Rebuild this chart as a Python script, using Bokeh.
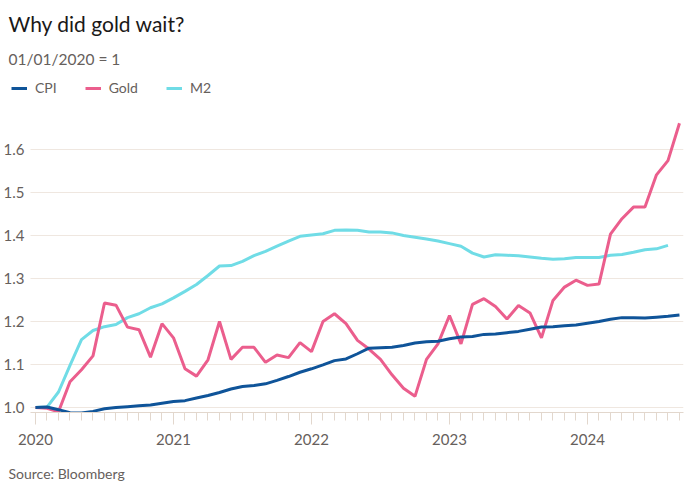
from bokeh.plotting import figure
from bokeh.models import Range1d, FixedTicker, Title, Legend, LegendItem, BoxAnnotation
from bokeh.embed import file_html
from bokeh.resources import INLINE

# Monthly index: 0 = Jan 2020 ... 56 = Sep 2024
months = list(range(57))
cpi = [1.000, 1.001, 0.995, 0.988, 0.987, 0.991, 0.997, 1.000, 1.002, 1.004,
       1.006, 1.010, 1.014, 1.016, 1.022, 1.028, 1.035, 1.043, 1.049, 1.051,
       1.055, 1.063, 1.072, 1.082, 1.090, 1.099, 1.109, 1.113, 1.125, 1.138,
       1.139, 1.140, 1.144, 1.150, 1.153, 1.154, 1.160, 1.164, 1.165, 1.170,
       1.171, 1.174, 1.177, 1.182, 1.187, 1.188, 1.190, 1.192, 1.196, 1.200,
       1.205, 1.209, 1.209, 1.208, 1.210, 1.212, 1.215]
gold = [1.000, 0.998, 0.990, 1.060, 1.088, 1.120, 1.243, 1.238, 1.187, 1.181,
        1.117, 1.195, 1.162, 1.090, 1.073, 1.111, 1.200, 1.112, 1.140, 1.140,
        1.105, 1.122, 1.116, 1.151, 1.130, 1.200, 1.218, 1.195, 1.156, 1.136,
        1.112, 1.076, 1.045, 1.026, 1.112, 1.148, 1.214, 1.148, 1.240, 1.253,
        1.235, 1.206, 1.237, 1.220, 1.162, 1.249, 1.280, 1.296, 1.284, 1.287,
        1.403, 1.439, 1.466, 1.466, 1.541, 1.574, 1.661]
m2 = [1.000, 1.001, 1.036, 1.098, 1.158, 1.179, 1.188, 1.193, 1.209, 1.218,
      1.232, 1.241, 1.255, 1.270, 1.286, 1.307, 1.329, 1.330, 1.340, 1.353,
      1.363, 1.375, 1.387, 1.398, 1.401, 1.404, 1.412, 1.413, 1.412, 1.408,
      1.408, 1.406, 1.400, 1.396, 1.392, 1.387, 1.381, 1.375, 1.359, 1.350,
      1.355, 1.354, 1.353, 1.350, 1.347, 1.345, 1.346, 1.349, 1.349, 1.349,
      1.354, 1.356, 1.361, 1.367, 1.369, 1.377]

year_ticks = [0, 12, 24, 36, 48]
year_labels = ["2020", "2021", "2022", "2023", "2024"]
y_ticks = [1.0, 1.1, 1.2, 1.3, 1.4, 1.5, 1.6]
y_labels = ["1.0", "1.1", "1.2", "1.3", "1.4", "1.5", "1.6"]

FONT = "Lato"
GREY = "#66605c"
X_START, X_END = -2.087, 56.35    # view range (months)
PLOT_LEFT = -0.435                # where gridlines / axis line begin

p = figure(frame_width=672, frame_height=337, output_backend="svg",
           toolbar_location=None, title=None,
           x_range=Range1d(X_START, X_END), y_range=Range1d(0.9884, 1.772),
           min_border_left=0, min_border_right=9, min_border_top=75,
           min_border_bottom=0)
p.background_fill_color = "white"
p.border_fill_color = "white"
p.outline_line_color = None

# y axis (labels sit inside the frame, left of the gridlines)
p.yaxis.ticker = FixedTicker(ticks=y_ticks)
p.yaxis.major_label_overrides = {t: l for t, l in zip(y_ticks, y_labels)}
p.yaxis.axis_line_color = None
p.yaxis.major_tick_line_color = None
p.yaxis.minor_tick_line_color = None
p.yaxis.major_label_text_font = FONT
p.yaxis.major_label_text_font_size = "15px"
p.yaxis.major_label_text_color = GREY
p.yaxis.major_label_standoff = -19

# x axis
p.xaxis.ticker = FixedTicker(ticks=year_ticks, minor_ticks=months)
p.xaxis.major_label_overrides = {t: l for t, l in zip(year_ticks, year_labels)}
p.xaxis.bounds = (PLOT_LEFT, X_END)
p.xaxis.axis_line_color = "#e2d7cd"
p.xaxis.major_tick_line_color = "#e2d7cd"
p.xaxis.minor_tick_line_color = "#e2d7cd"
p.xaxis.major_tick_in = 0
p.xaxis.major_tick_out = 12
p.xaxis.minor_tick_in = 0
p.xaxis.minor_tick_out = 8
p.xaxis.major_label_text_font = FONT
p.xaxis.major_label_text_font_size = "15px"
p.xaxis.major_label_text_color = GREY
p.xaxis.major_label_standoff = 9

p.xgrid.grid_line_color = None
p.ygrid.ticker = FixedTicker(ticks=y_ticks)
p.ygrid.grid_line_color = "#efe7e0"
# keep the gridlines clear of the y labels
p.add_layout(BoxAnnotation(left=X_START, right=PLOT_LEFT, fill_color="white",
                           fill_alpha=1, line_alpha=0, level="underlay"))

r_m2 = p.line(months[:len(m2)], m2, line_color="#70dce6", line_width=3)
r_gold = p.line(months, gold, line_color="#eb5e8d", line_width=3)
r_cpi = p.line(months, cpi, line_color="#0f5499", line_width=3)

legend = Legend(items=[LegendItem(label="CPI", renderers=[r_cpi]),
                       LegendItem(label="Gold", renderers=[r_gold]),
                       LegendItem(label="M2", renderers=[r_m2])],
                orientation="horizontal", location=(0, 316),
                glyph_width=16, glyph_height=14, label_standoff=8, spacing=28,
                padding=0, margin=0, border_line_color=None,
                background_fill_alpha=0,
                label_text_font=FONT, label_text_font_size="14px",
                label_text_color=GREY)
p.add_layout(legend, "center")

p.add_layout(Title(text="01/01/2020 = 1", align="left", offset=-3, standoff=15,
                   text_font=FONT, text_font_size="15.5px", text_font_style="normal",
                   text_color=GREY), "above")
p.add_layout(Title(text="Why did gold wait?", align="left", offset=-3,
                   text_font=FONT, text_font_size="21px", text_font_style="normal",
                   text_color="#1a1817"), "above")
p.add_layout(Title(text="Source: Bloomberg", align="left", offset=-3,
                   standoff=31,
                   text_font=FONT, text_font_size="14px", text_font_style="normal",
                   text_color=GREY), "below")

open("out.html", "w").write(file_html(p, INLINE))
